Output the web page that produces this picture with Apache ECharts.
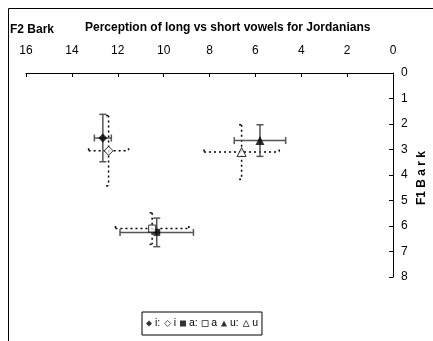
<!DOCTYPE html>
<html>
<head>
<meta charset="utf-8">
<script src="https://cdn.jsdelivr.net/npm/echarts@6/dist/echarts.min.js"></script>
<style>
  html, body { margin: 0; padding: 0; background: #fff; }
  #chart { width: 433px; height: 341px; }
</style>
</head>
<body>
<div id="chart"></div>
<script>
// vowel data
var vowels = ['i:', 'i', 'a:', 'a', 'u:', 'u'];
var isLong = [true, false, true, false, true, false];
var f2 = [12.65, 12.4, 10.3, 10.5, 5.8, 6.6];
var f1 = [2.55, 3.05, 6.25, 6.1, 2.65, 3.1];
var f2Err = [0.37, 0.87, 1.6, 1.6, 1.12, 1.64];
var f1Err = [0.93, 1.38, 0.56, 0.62, 0.62, 1.07];
var symbols = ['diamond', 'diamond', 'rect', 'rect', 'triangle', 'triangle'];
var xTicks = [0, 2, 4, 6, 8, 10, 12, 14, 16];

var chart = echarts.init(document.getElementById('chart'));

function errorItem(params, api) {
  var x = api.value(0), y = api.value(1);
  var dx = api.value(2), dy = api.value(3);
  var c = api.coord([x, y]);
  var l = api.coord([x + dx, y]), r = api.coord([x - dx, y]);
  var t = api.coord([x, y - dy]), b = api.coord([x, y + dy]);
  var solid = params.seriesName === 'long';
  var style = solid
    ? { stroke: '#555', lineWidth: 1.5 }
    : { stroke: '#000', lineWidth: 1.5, lineDash: [2, 3] };
  var cap = solid ? 3.5 : 2.5;
  function line(x1, y1, x2, y2) {
    return { type: 'line', shape: { x1: x1, y1: y1, x2: x2, y2: y2 }, style: style };
  }
  return {
    type: 'group',
    children: [
      line(l[0], c[1], r[0], c[1]),
      line(c[0], t[1], c[0], b[1]),
      line(l[0], c[1] - cap, l[0], c[1] + cap),
      line(r[0], c[1] - cap, r[0], c[1] + cap),
      line(c[0] - cap, t[1], c[0] + cap, t[1]),
      line(c[0] - cap, b[1], c[0] + cap, b[1])
    ]
  };
}

var longData = [], shortData = [];
for (var i = 0; i < vowels.length; i++) {
  var row = [f2[i], f1[i], f2Err[i], f1Err[i]];
  if (isLong[i]) longData.push(row); else shortData.push(row);
}

var series = [
  { name: 'short', type: 'custom', renderItem: errorItem, data: shortData, z: 1 },
  { name: 'long', type: 'custom', renderItem: errorItem, data: longData, z: 2 }
];
for (var j = 0; j < vowels.length; j++) {
  series.push({
    name: vowels[j],
    type: 'scatter',
    symbol: symbols[j],
    symbolSize: symbols[j] === 'rect' ? 7 : 9,
    itemStyle: isLong[j]
      ? { color: '#000' }
      : { color: '#fff', borderColor: '#000', borderWidth: 1 },
    data: [[f2[j], f1[j]]],
    z: 3
  });
}

var option = {
  animation: false,
  graphic: [
    { type: 'rect', shape: { x: 8.5, y: 8.5, width: 500, height: 400 },
      style: { fill: 'none', stroke: '#000', lineWidth: 1 }, silent: true },
    { type: 'text', left: 10, top: 24,
      style: { text: 'F2 Bark', font: 'bold 12px "Liberation Sans", Arial', fill: '#000' } },
    { type: 'text', left: 85, top: 22,
      style: { text: 'Perception of long vs short vowels for Jordanians',
               font: 'bold 12px "Liberation Sans", Arial', fill: '#000' } },
    { type: 'text', x: 422, y: 178, rotation: Math.PI / 2,
      style: { text: 'F1 B a r k', font: 'bold 12px "Liberation Sans", Arial', fill: '#000',
               align: 'center', verticalAlign: 'middle' } }
  ],
  grid: { left: 26, right: 40, top: 73, bottom: 64 },
  xAxis: {
    type: 'value', position: 'top', inverse: true,
    min: 0, max: 16, interval: 2,
    axisLine: { lineStyle: { color: '#000' } },
    axisTick: { inside: true, length: 4, lineStyle: { color: '#000' } },
    axisLabel: { margin: 16, color: '#000', fontSize: 12,
                 fontFamily: '"Liberation Sans", Arial',
                 formatter: function (v) { return xTicks.indexOf(v) >= 0 ? v : ''; } },
    splitLine: { show: false }
  },
  yAxis: {
    type: 'value', position: 'right', inverse: true,
    min: 0, max: 8, interval: 1,
    axisLine: { show: true, lineStyle: { color: '#000' } },
    axisTick: { show: true, inside: true, length: 4, lineStyle: { color: '#000' } },
    axisLabel: { margin: 8, color: '#000', fontSize: 12, fontFamily: '"Liberation Sans", Arial' },
    splitLine: { show: false }
  },
  legend: {
    data: vowels,
    left: 142, top: 312,
    orient: 'horizontal',
    itemWidth: 6, itemHeight: 6, itemGap: 4,
    padding: [6, 4],
    borderColor: '#000', borderWidth: 1,
    itemStyle: { borderWidth: 0.8 },
    textStyle: { fontSize: 10.5, color: '#000', fontFamily: '"Liberation Sans", Arial', padding: [0, 0, 0, -2] }
  },
  series: series
};

chart.setOption(option);
</script>
</body>
</html>
